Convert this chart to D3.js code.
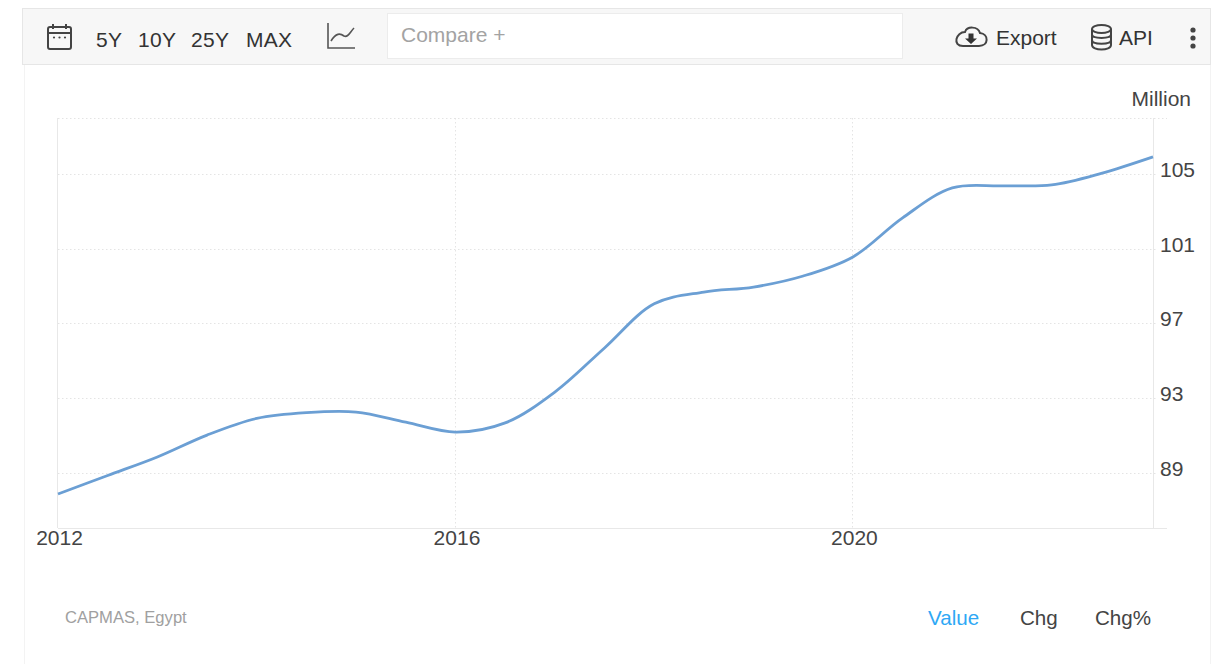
<!DOCTYPE html>
<html>
<head>
<meta charset="utf-8">
<script src="https://cdn.jsdelivr.net/npm/d3@7"></script>
<style>
  html, body { margin: 0; padding: 0; background: #fff; }
  svg { display: block; }
  text { font-family: "Liberation Sans", Arial, sans-serif; }
</style>
</head>
<body>
<svg id="chart" width="1217" height="664"></svg>
<script>
// Egypt population, millions, at half-year steps
const years = [2012, 2012.5, 2013, 2013.5, 2014, 2014.5, 2015, 2015.5, 2016, 2016.5, 2017, 2017.5,
  2018, 2018.5, 2019, 2019.5, 2020, 2020.5, 2021, 2021.5, 2022, 2022.5, 2023.02];
const population = [87.88, 88.87, 89.86, 91.03, 91.92, 92.23, 92.26, 91.72, 91.19, 91.68, 93.33, 95.69,
  98.05, 98.68, 98.95, 99.54, 100.56, 102.65, 104.25, 104.36, 104.41, 105.03, 105.91];
const yTickValues = [89, 93, 97, 101, 105];
const xTickValues = [2012, 2016, 2020];
const rangeButtons = ["5Y", "10Y", "25Y", "MAX"];
const rangeButtonX = [96, 138, 191, 246];
const viewTabs = ["Value", "Chg", "Chg%"];
const viewTabX = [928, 1020, 1095];

const svg = d3.select("#chart");
const plot = { left: 58, right: 1153, top: 118, bottom: 528 };

const x = d3.scaleLinear().domain([2012, 2023.02]).range([plot.left, plot.right]);
const y = d3.scaleLinear().domain([86.06, 107.99]).range([plot.bottom, plot.top]);

// Card edges and toolbar
svg.append("rect").attr("x", 24.5).attr("y", 60).attr("width", 1186).attr("height", 620)
  .attr("fill", "#fff").attr("stroke", "#f3f3f3");
svg.append("rect").attr("x", 22.5).attr("y", 8.5).attr("width", 1188).attr("height", 56)
  .attr("fill", "#f7f7f7").attr("stroke", "#e6e6e6");
svg.append("rect").attr("x", 387.5).attr("y", 13.5).attr("width", 515).attr("height", 45)
  .attr("fill", "#fff").attr("stroke", "#ececec");

const toolbar = svg.append("g").attr("fill", "#333").style("font-size", "21px");
toolbar.selectAll("text.range").data(rangeButtons).join("text")
  .attr("class", "range")
  .attr("x", (d, i) => rangeButtonX[i]).attr("y", 47)
  .attr("letter-spacing", "0.3")
  .text(d => d);
toolbar.append("text").attr("x", 401).attr("y", 42).attr("fill", "#a3a3a3").text("Compare +");
toolbar.append("text").attr("x", 996).attr("y", 45).text("Export");
toolbar.append("text").attr("x", 1119).attr("y", 45).text("API");

// Toolbar icons
const iconStroke = { fill: "none", stroke: "#444", "stroke-width": 2 };
function applyAttrs(sel, attrs) { Object.entries(attrs).forEach(([k, v]) => sel.attr(k, v)); return sel; }

const cal = svg.append("g");
applyAttrs(cal.append("rect").attr("x", 48).attr("y", 27).attr("width", 23).attr("height", 22).attr("rx", 2), iconStroke);
applyAttrs(cal.append("path").attr("d", "M48 33H71M53 24V29M66 24V29"), iconStroke);
cal.selectAll("circle").data([54, 59.5, 65]).join("circle")
  .attr("cx", d => d).attr("cy", 37.5).attr("r", 1.1).attr("fill", "#444");

applyAttrs(svg.append("path").attr("d", "M328 23V48H355M331 41C336 33 340 33 344 36C348 38 350 32 354 28"),
  { ...iconStroke, stroke: "#555", "stroke-width": 1.6 });

applyAttrs(svg.append("path")
  .attr("transform", "translate(-1,0)")
  .attr("d", "M964 46H980C990 46 990 34 981 33C979 26 968 26 966 32C957 32 953 46 964 46Z"), iconStroke);
svg.append("path").attr("transform", "translate(-1,0)")
  .attr("d", "M969.5 33.5h5v5h3.5l-6 5.5l-6-5.5h3.5z").attr("fill", "#333");

const db = svg.append("g");
applyAttrs(db.append("path")
  .attr("d", "M1092 29V45C1092 51 1111 51 1111 45V29M1092 34.5C1092 39 1111 39 1111 34.5M1092 40C1092 45 1111 45 1111 40"), iconStroke);
applyAttrs(db.append("ellipse").attr("cx", 1101.5).attr("cy", 29).attr("rx", 9.5).attr("ry", 4), iconStroke);

svg.selectAll("circle.menu").data([30, 38, 46]).join("circle")
  .attr("class", "menu").attr("cx", 1193).attr("cy", d => d).attr("r", 2.6).attr("fill", "#444");

// Gridlines
const grid = svg.append("g").attr("fill", "none").attr("stroke", "#e4e4e4").attr("stroke-dasharray", "1.5 2.5");
grid.selectAll("line.h").data(yTickValues).join("line")
  .attr("class", "h")
  .attr("x1", plot.left).attr("x2", plot.right + 4)
  .attr("y1", d => Math.round(y(d)) + 0.5).attr("y2", d => Math.round(y(d)) + 0.5);
grid.append("line").attr("x1", plot.left).attr("x2", plot.right + 14)
  .attr("y1", plot.top + 0.5).attr("y2", plot.top + 0.5);
grid.selectAll("line.v").data(xTickValues.slice(1)).join("line")
  .attr("class", "v")
  .attr("x1", d => Math.floor(x(d)) + 0.5).attr("x2", d => Math.floor(x(d)) + 0.5)
  .attr("y1", plot.top).attr("y2", plot.bottom);

// Plot frame
const frame = svg.append("g").attr("stroke", "#e8e8e8").attr("fill", "none");
frame.append("line").attr("x1", plot.left - 0.5).attr("x2", plot.left - 0.5).attr("y1", plot.top).attr("y2", plot.bottom);
frame.append("line").attr("x1", plot.right + 0.5).attr("x2", plot.right + 0.5).attr("y1", plot.top).attr("y2", plot.bottom);
frame.append("line").attr("x1", plot.left).attr("x2", plot.right + 14).attr("y1", plot.bottom + 0.5).attr("y2", plot.bottom + 0.5);

// Axes: only their labels are shown, the frame and grid are drawn above
const yAxis = svg.append("g")
  .attr("transform", `translate(${plot.right},0)`)
  .call(d3.axisRight(y).tickValues(yTickValues).tickSize(0).tickPadding(7).tickFormat(d3.format("d")));
yAxis.select(".domain").remove();
yAxis.selectAll("text").attr("dy", "0.12em").attr("fill", "#444")
  .style("font-size", "21px").style("font-family", '"Liberation Sans", Arial, sans-serif');

const xAxis = svg.append("g")
  .attr("transform", `translate(1,${plot.bottom})`)
  .call(d3.axisBottom(x).tickValues(xTickValues).tickSize(0).tickPadding(2).tickFormat(d3.format("d")));
xAxis.select(".domain").remove();
xAxis.selectAll("text").attr("fill", "#444")
  .style("font-size", "21px").style("font-family", '"Liberation Sans", Arial, sans-serif');

svg.append("text").attr("x", 1191).attr("y", 106).attr("text-anchor", "end")
  .attr("fill", "#444").style("font-size", "21px").text("Million");

// Population line
const line = d3.line()
  .x((d, i) => x(years[i]))
  .y(d => y(d))
  .curve(d3.curveCatmullRom.alpha(0.5));
svg.append("path").datum(population)
  .attr("d", line)
  .attr("fill", "none")
  .attr("stroke", "#6b9fd4")
  .attr("stroke-width", 2.8);

// Footer
svg.append("text").attr("x", 65).attr("y", 623).attr("fill", "#a0a0a0")
  .style("font-size", "16.6px").text("CAPMAS, Egypt");
svg.selectAll("text.tab").data(viewTabs).join("text")
  .attr("class", "tab")
  .attr("x", (d, i) => viewTabX[i]).attr("y", 625)
  .attr("fill", (d, i) => i === 0 ? "#2ea8f5" : "#444")
  .style("font-size", "20.6px")
  .text(d => d);
</script>
</body>
</html>
